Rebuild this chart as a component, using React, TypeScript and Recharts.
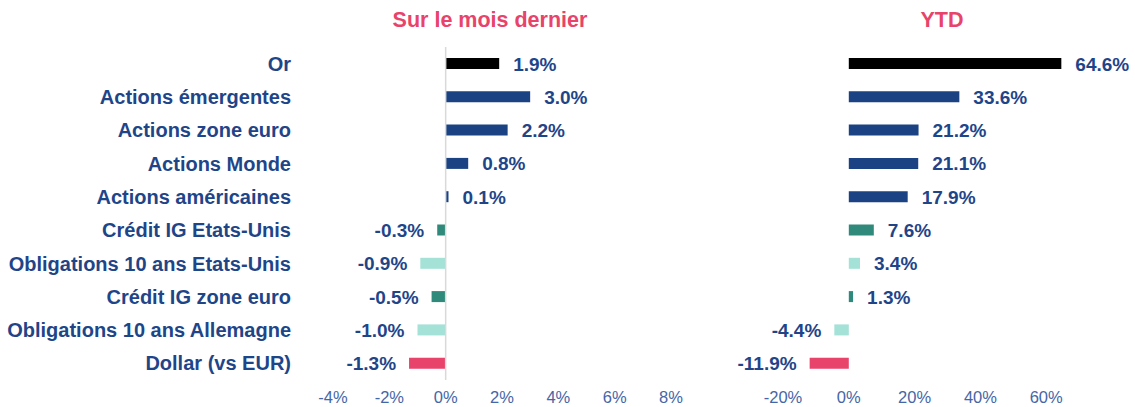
import React from 'react';
import { BarChart, Bar, XAxis, YAxis, Cell, LabelList, ReferenceLine } from 'recharts';

const categories = [
  'Or',
  'Actions émergentes',
  'Actions zone euro',
  'Actions Monde',
  'Actions américaines',
  'Crédit IG Etats-Unis',
  'Obligations 10 ans Etats-Unis',
  'Crédit IG zone euro',
  'Obligations 10 ans Allemagne',
  'Dollar (vs EUR)',
];
const monthValues = [1.9, 3.0, 2.2, 0.8, 0.1, -0.3, -0.9, -0.5, -1.0, -1.3];
const ytdValues = [64.6, 33.6, 21.2, 21.1, 17.9, 7.6, 3.4, 1.3, -4.4, -11.9];
const barColors = [
  '#000000',
  '#1b4283',
  '#1b4283',
  '#1b4283',
  '#1b4283',
  '#2f8a7b',
  '#a4e1d7',
  '#2f8a7b',
  '#a4e1d7',
  '#e8436a',
];
const monthTicks = [-4, -2, 0, 2, 4, 6, 8];
const ytdTicks = [-20, 0, 20, 40, 60];
const titles = ['Sur le mois dernier', 'YTD'];

const data = categories.map((name, i) => ({
  name,
  month: monthValues[i],
  ytd: ytdValues[i],
}));

const FONT = '"Liberation Sans", Arial, sans-serif';
const TEXT_BLUE = '#1f4589';
const TICK_BLUE = '#4566a6';

const ValueLabel = (props: any) => {
  const { x, y, width, height, value } = props;
  const left = Math.min(x, x + width);
  const right = Math.max(x, x + width);
  const neg = value < 0;
  return (
    <text
      x={neg ? left - 13 : right + 14}
      y={y + height / 2}
      dy="0.37em"
      textAnchor={neg ? 'end' : 'start'}
      fill={TEXT_BLUE}
      fontSize={19}
      fontWeight="bold"
      fontFamily={FONT}
    >
      {`${Number(value).toFixed(1)}%`}
    </text>
  );
};

const tickFmt = (v: number) => `${v}%`;

export default function App() {
  return (
    <div style={{ position: 'absolute', left: 0, top: 0, width: 1135, height: 407, background: '#fff', fontFamily: FONT }}>
      <div style={{ position: 'absolute', left: 390, width: 200, top: 7, textAlign: 'center', color: '#e8436a', fontWeight: 'bold', fontSize: 21.5, lineHeight: '26px', whiteSpace: 'nowrap' }}>
        {titles[0]}
      </div>
      <div style={{ position: 'absolute', left: 892, width: 100, top: 7, textAlign: 'center', color: '#e8436a', fontWeight: 'bold', fontSize: 21.5, lineHeight: '26px' }}>
        {titles[1]}
      </div>
      <div style={{ position: 'absolute', left: 0, top: 0 }}>
        <BarChart
          width={700}
          height={407}
          data={data}
          layout="vertical"
          margin={{ top: 47, right: 29, bottom: 0, left: 0 }}
          barSize={11}
        >
          <XAxis
            type="number"
            domain={[-4, 8]}
            ticks={monthTicks}
            tickFormatter={tickFmt}
            axisLine={false}
            tickLine={false}
            tickSize={0}
            tickMargin={11}
            height={27}
            interval={0}
            tick={{ fill: TICK_BLUE, fontSize: 16.5, fontFamily: FONT }}
          />
          <YAxis
            type="category"
            dataKey="name"
            width={333}
            axisLine={false}
            tickLine={false}
            tickSize={0}
            tickMargin={42}
            interval={0}
            tick={{ fill: TEXT_BLUE, fontSize: 20, fontWeight: 'bold', fontFamily: FONT }}
          />
          <ReferenceLine x={0} stroke="#d9d9d9" strokeWidth={1.5} />
          <Bar dataKey="month" isAnimationActive={false}>
            {data.map((d, i) => (
              <Cell key={d.name} fill={barColors[i]} />
            ))}
            <LabelList dataKey="month" content={ValueLabel} />
          </Bar>
        </BarChart>
      </div>
      <div style={{ position: 'absolute', left: 700, top: 0 }}>
        <BarChart
          width={435}
          height={407}
          data={data}
          layout="vertical"
          margin={{ top: 47, right: 23, bottom: 0, left: 83 }}
          barSize={11}
          style={{ overflow: 'visible' }}
        >
          <XAxis
            type="number"
            domain={[-20, 80]}
            ticks={ytdTicks}
            tickFormatter={tickFmt}
            axisLine={false}
            tickLine={false}
            tickSize={0}
            tickMargin={11}
            height={27}
            interval={0}
            tick={{ fill: TICK_BLUE, fontSize: 16.5, fontFamily: FONT }}
          />
          <YAxis type="category" dataKey="name" hide />
          <Bar dataKey="ytd" isAnimationActive={false}>
            {data.map((d, i) => (
              <Cell key={d.name} fill={barColors[i]} />
            ))}
            <LabelList dataKey="ytd" content={ValueLabel} />
          </Bar>
        </BarChart>
      </div>
    </div>
  );
}
